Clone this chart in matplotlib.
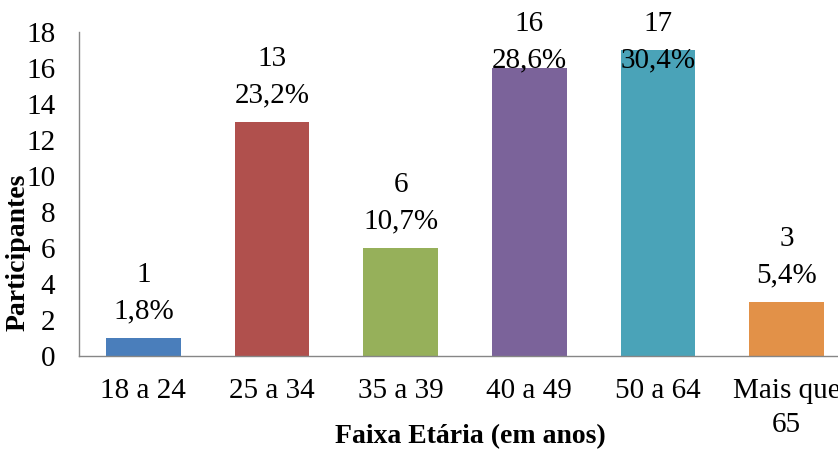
import matplotlib.pyplot as plt

plt.rcParams['font.family'] = ['Liberation Serif', 'DejaVu Serif']

faixas = ["18 a 24", "25 a 34", "35 a 39", "40 a 49", "50 a 64", "Mais que\n65"]
participantes = [1, 13, 6, 16, 17, 3]
percentuais = ["1,8%", "23,2%", "10,7%", "28,6%", "30,4%", "5,4%"]
cores = ["#4a7ebb", "#b0504d", "#96b05a", "#7b639a", "#4aa3b8", "#e29148"]

fig = plt.figure(figsize=(8.38, 4.5), dpi=100)
ax = fig.add_axes([79 / 838, 94 / 450, 772 / 838, 324 / 450])

x = range(len(faixas))
ax.bar(x, participantes, width=0.58, color=cores)

# rótulos de dados: valor e percentual, limitados ao topo da área do gráfico
for i, (v, p) in enumerate(zip(participantes, percentuais)):
    ax.text(i, min(v + 0.75, 15.7), f"{v}\n{p}", ha="center", va="bottom",
            fontsize=21, linespacing=1.5, clip_on=False)

ax.set_xlim(-0.5, len(faixas) - 0.5)
ax.set_ylim(0, 18)
ax.set_yticks(range(0, 19, 2))
ax.set_xticks(list(x))
ax.set_xticklabels(faixas, linespacing=1.4)
ax.tick_params(axis="y", length=0, pad=17, labelsize=21)
ax.tick_params(axis="x", length=0, pad=16, labelsize=21)

for s in ["top", "right"]:
    ax.spines[s].set_visible(False)
for s in ["left", "bottom"]:
    ax.spines[s].set_color("#868686")
    ax.spines[s].set_linewidth(1)

fig.text(18 / 838, 1 - 252 / 450, "Participantes", rotation=90, ha="center",
         va="center", fontsize=20, fontweight="bold")
fig.text(470 / 838, 1 - 437 / 450, "Faixa Etária (em anos)", ha="center",
         va="center", fontsize=20, fontweight="bold")

fig.savefig("out.png", dpi=100)
